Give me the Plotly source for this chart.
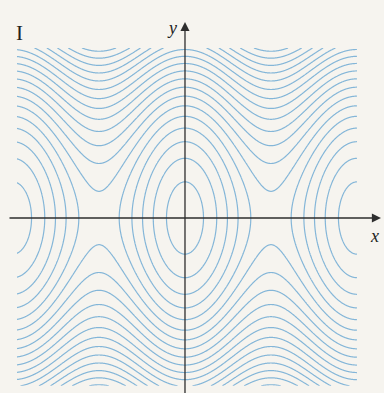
import numpy as np
import plotly.graph_objects as go

# Level curves of the pendulum energy H(x, y) = y^2/2 - cos(x)
LEVEL_START = -0.78   # innermost closed orbit around the origin
LEVEL_STEP = 0.38     # spacing between successive level curves
LEVEL_END = 6.0

# Window in which the level curves are drawn
X_DOMAIN = [-6.14, 6.283]
Y_DOMAIN = [-3.08, 3.12]

# Full view of the figure (axes extend beyond the curve window)
X_VIEW = [-6.759, 7.271]
Y_VIEW = [-3.211, 4.0]

# Coordinate axes: start and arrow tip
X_AXIS = [-6.467, 7.161]
Y_AXIS = [-3.4, 3.596]

CURVE_COLOR = "#84b6d8"
AXIS_COLOR = "#2e2e2e"
PAPER = "#f6f4ef"

x = np.linspace(X_DOMAIN[0], X_DOMAIN[1], 800)
y = np.linspace(Y_DOMAIN[0], Y_DOMAIN[1], 600)
X, Y = np.meshgrid(x, y)
H = 0.5 * Y ** 2 - np.cos(X)

fig = go.Figure(
    go.Contour(
        x=x,
        y=y,
        z=H,
        contours=dict(coloring="lines", start=LEVEL_START, end=LEVEL_END, size=LEVEL_STEP),
        colorscale=[[0, CURVE_COLOR], [1, CURVE_COLOR]],
        line=dict(width=1.2, smoothing=1),
        showscale=False,
        hoverinfo="skip",
    )
)

annotations = [
    # x axis
    dict(x=X_AXIS[1], y=0, ax=X_AXIS[0], ay=0, xref="x", yref="y", axref="x", ayref="y",
         text="", showarrow=True, arrowhead=2, arrowsize=1.4, arrowwidth=1.3,
         arrowcolor=AXIS_COLOR),
    # y axis
    dict(x=0, y=Y_AXIS[1], ax=0, ay=Y_AXIS[0], xref="x", yref="y", axref="x", ayref="y",
         text="", showarrow=True, arrowhead=2, arrowsize=1.4, arrowwidth=1.3,
         arrowcolor=AXIS_COLOR),
    dict(x=-0.48, y=3.49, xref="x", yref="y", text="<i>y</i>", showarrow=False,
         font=dict(family="Liberation Serif", size=18, color="#222")),
    dict(x=6.94, y=-0.33, xref="x", yref="y", text="<i>x</i>", showarrow=False,
         font=dict(family="Liberation Serif", size=18, color="#222")),
    dict(x=14 / 384, y=1 - 19 / 393, xref="paper", yref="paper", text="I", showarrow=False,
         font=dict(family="Liberation Serif", size=21, color="#222")),
]

fig.update_layout(
    width=384,
    height=393,
    margin=dict(l=0, r=0, t=0, b=0),
    paper_bgcolor=PAPER,
    plot_bgcolor=PAPER,
    xaxis=dict(range=X_VIEW, visible=False, fixedrange=True),
    yaxis=dict(range=Y_VIEW, visible=False, fixedrange=True),
    annotations=annotations,
    showlegend=False,
)

fig.write_html("out.html")
